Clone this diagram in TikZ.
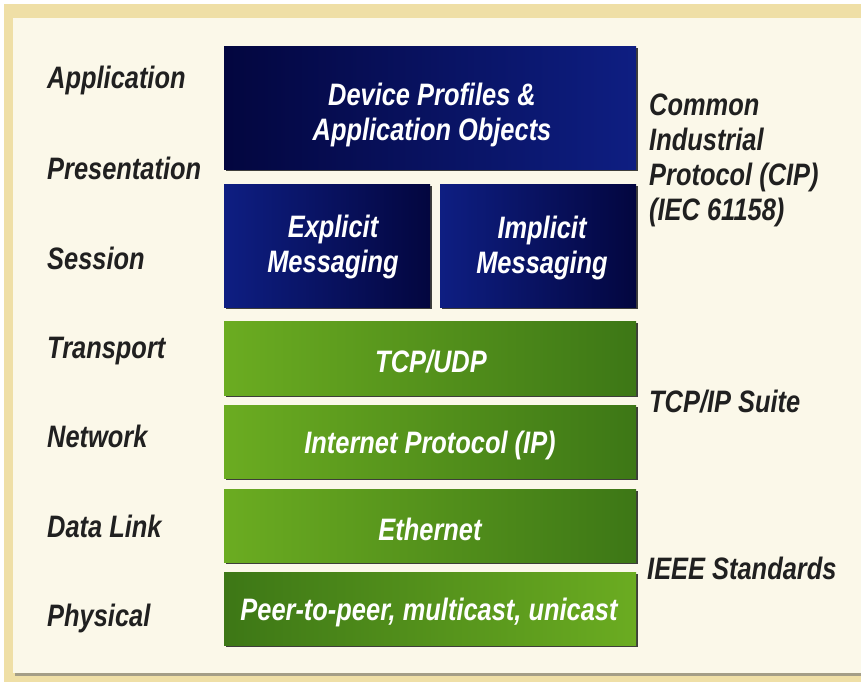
\documentclass[tikz,border=0pt]{standalone}
\usepackage{fontspec}
\setmainfont{Liberation Sans}
\newfontfamily\lab{Liberation Sans}[FakeStretch=0.82]
\usetikzlibrary{shadows}
\definecolor{tan}{HTML}{EFDFA6}
\definecolor{cream}{HTML}{FBF8E9}
\definecolor{navyD}{HTML}{03063F}
\definecolor{navyL}{HTML}{0E1E82}
\definecolor{greenL}{HTML}{6BAC21}
\definecolor{greenD}{HTML}{3D7716}
\definecolor{ink}{HTML}{202020}
\tikzset{
  every node/.style={font=\lab\bfseries\itshape\fontsize{31}{35}\selectfont},
  layer/.style={anchor=base west, text=ink, inner sep=0pt},
  side/.style={anchor=base west, text=ink, inner sep=0pt, align=left},
  wtext/.style={anchor=base, text=white, inner sep=0pt, align=center},
  box/.style={anchor=north west, inner sep=0pt,
     drop shadow={shadow xshift=1.5pt, shadow yshift=-2pt, opacity=0.75, fill=black}},
  navyR/.style={box, left color=navyD, right color=navyL},
  navyLft/.style={box, left color=navyL, right color=navyD},
  greenR/.style={box, left color=greenL, right color=greenD},
  greenLft/.style={box, left color=greenD, right color=greenL},
}
\begin{document}
\begin{tikzpicture}[x=1pt,y=-1pt]
\useasboundingbox (0,0) rectangle (861,682);
\fill[white] (0,0) rectangle (861,682);
\fill[tan] (4,4) rectangle (861,682);
\fill[black!55, opacity=0.6] (15,20) rectangle (861,676);
\fill[cream] (13,18) rectangle (861,673);
% boxes
\node[navyR, minimum width=412pt, minimum height=123pt] (app) at (224,46) {};
\node[navyLft, minimum width=206pt, minimum height=123pt] (expl) at (224,184) {};
\node[navyLft, minimum width=196pt, minimum height=123pt] (impl) at (440,184) {};
\node[greenR, minimum width=412pt, minimum height=74pt] (tcp) at (224,321) {};
\node[greenR, minimum width=412pt, minimum height=73pt] (ip) at (224,405) {};
\node[greenR, minimum width=412pt, minimum height=73pt] (eth) at (224,489) {};
\node[greenLft, minimum width=412pt, minimum height=73pt] (phy) at (224,572) {};
% box texts
\node[wtext] (appt) at (432,140) {Device Profiles \&\\Application Objects};
\node[wtext] (explt) at (333,272) {Explicit\\Messaging};
\node[wtext] (implt) at (542,273) {Implicit\\Messaging};
\node[wtext] (tcpt) at (431,372) {TCP/UDP};
\node[wtext] (ipt) at (430,453) {Internet Protocol (IP)};
\node[wtext] (etht) at (430,540) {Ethernet};
\node[wtext] (phyt) at (429,620) {Peer-to-peer, multicast, unicast};
% layer labels
\node[layer] (lapp) at (47,89) {Application};
\node[layer] (lpre) at (47,179) {Presentation};
\node[layer] (lses) at (47,269) {Session};
\node[layer] (ltra) at (47,358) {Transport};
\node[layer] (lnet) at (47,447) {Network};
\node[layer] (ldl) at (47,537) {Data Link};
\node[layer] (lphy) at (47,626) {Physical};
% side labels
\node[side] (cip) at (649,220) {Common\\Industrial\\Protocol (CIP)\\(IEC 61158)};
\node[side] (tcpip) at (649,412) {TCP/IP Suite};
\node[side] (ieee) at (647,579) {IEEE Standards};
\end{tikzpicture}
\end{document}
